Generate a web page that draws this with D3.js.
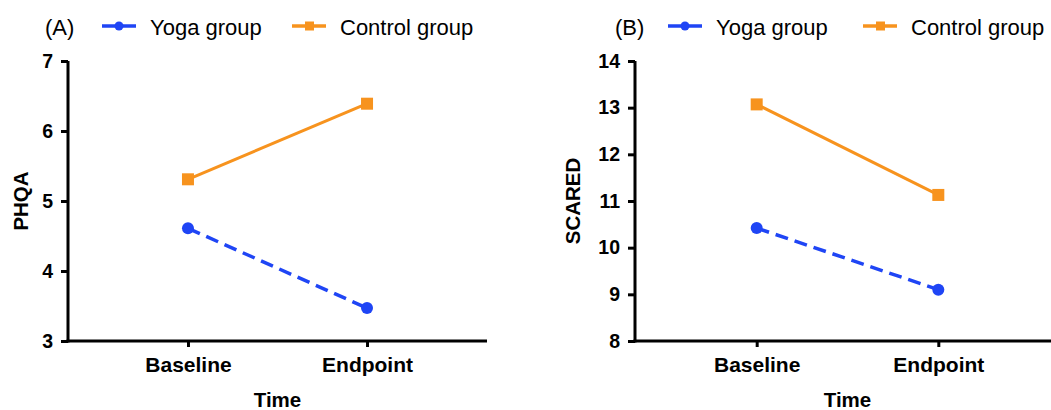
<!DOCTYPE html>
<html>
<head>
<meta charset="utf-8">
<script src="https://cdn.jsdelivr.net/npm/d3@7"></script>
<style>
  body { margin: 0; background: #fff; }
  svg { display: block; font-family: "Liberation Sans", Arial, Helvetica, sans-serif; }
</style>
</head>
<body>
<svg id="chart" width="1051" height="410"></svg>
<script>
// Data
var timepoints = ["Baseline", "Endpoint"];
var groups = ["Yoga group", "Control group"];
var phqaYoga = [4.61, 3.47];
var phqaControl = [5.31, 6.39];
var scaredYoga = [10.42, 9.10];
var scaredControl = [13.07, 11.13];
var phqaTicks = [3, 4, 5, 6, 7];
var scaredTicks = [8, 9, 10, 11, 12, 13, 14];

var blue = "#1f45f5", orange = "#f7931e";

var panels = [
  {tag: "(A)", yLabel: "PHQA", yDomain: [3, 7], ticks: phqaTicks, yoga: phqaYoga, control: phqaControl,
   left: 68, right: 487, tagX: -23, leg1: 34, leg2: 224, titleX: 28},
  {tag: "(B)", yLabel: "SCARED", yDomain: [8, 14], ticks: scaredTicks, yoga: scaredYoga, control: scaredControl,
   left: 635, right: 1060, tagX: -20, leg1: 33, leg2: 228, titleX: 580}
];

var plotTop = 61, plotBottom = 341;
var svg = d3.select("#chart");

panels.forEach(function(p){
  var g = svg.append("g");

  var x = d3.scalePoint().domain(timepoints).range([p.left, p.right]).padding(0.67);
  var y = d3.scaleLinear().domain(p.yDomain).range([plotBottom, plotTop]);

  //Y axis
  var yAxis = g.append("g")
    .attr("transform", "translate(" + p.left + ",0)")
    .call(d3.axisLeft(y).tickValues(p.ticks).tickFormat(d3.format("d")).tickSize(7).tickSizeOuter(0).tickPadding(8));

  //X axis
  var xAxis = g.append("g")
    .attr("transform", "translate(0," + plotBottom + ")")
    .call(d3.axisBottom(x).tickSize(6).tickSizeOuter(0).tickPadding(10));

  [yAxis, xAxis].forEach(function(ax){
    ax.selectAll("path, line").attr("stroke", "#000").attr("stroke-width", 3);
    ax.selectAll("text")
      .attr("fill", "#000")
      .style("font-size", "19.5px")
      .style("font-weight", "bold");
  });
  xAxis.select(".domain").attr("d", "M" + (p.left - 1.5) + ",0H" + p.right);
  yAxis.select(".domain").attr("d", "M0," + plotTop + "V" + (plotBottom + 1.5));
  xAxis.selectAll("text").style("font-size", "21px");

  //Axis titles
  g.append("text")
    .attr("transform", "translate(" + p.titleX + "," + ((plotTop + plotBottom) / 2) + ") rotate(-90)")
    .attr("text-anchor", "middle")
    .style("font-size", "20.5px")
    .style("font-weight", "bold")
    .text(p.yLabel);

  g.append("text")
    .attr("x", (x(timepoints[0]) + x(timepoints[1])) / 2)
    .attr("y", 407)
    .attr("text-anchor", "middle")
    .style("font-size", "20.5px")
    .style("font-weight", "bold")
    .text("Time");

  var line = d3.line()
    .x(function(d, i){ return x(timepoints[i]); })
    .y(function(d){ return y(d); });

  //Control line + square markers
  g.append("path")
    .datum(p.control)
    .attr("fill", "none")
    .attr("stroke", orange)
    .attr("stroke-width", 3)
    .attr("d", line);

  g.selectAll(".sq").data(p.control).enter().append("rect")
    .attr("x", function(d, i){ return x(timepoints[i]) - 6; })
    .attr("y", function(d){ return y(d) - 6; })
    .attr("width", 12)
    .attr("height", 12)
    .attr("fill", orange);

  //Yoga line (dashed) + circle markers
  g.append("path")
    .datum(p.yoga)
    .attr("fill", "none")
    .attr("stroke", blue)
    .attr("stroke-width", 3.5)
    .attr("stroke-dasharray", "13,7")
    .attr("d", line);

  g.selectAll(".dot").data(p.yoga).enter().append("circle")
    .attr("cx", function(d, i){ return x(timepoints[i]); })
    .attr("cy", function(d){ return y(d); })
    .attr("r", 6)
    .attr("fill", blue);

  //Panel tag and legend
  g.append("text")
    .attr("x", p.left + p.tagX)
    .attr("y", 35)
    .style("font-size", "22px")
    .text(p.tag);

  var legY = 26;
  var leg = [{x: p.leg1, color: blue, shape: "circle"}, {x: p.leg2, color: orange, shape: "square"}];
  leg.forEach(function(l, i){
    var x0 = p.left + l.x;
    g.append("line")
      .attr("x1", x0).attr("x2", x0 + 34)
      .attr("y1", legY).attr("y2", legY)
      .attr("stroke", l.color)
      .attr("stroke-width", 3.5);
    if(l.shape == "circle"){
      g.append("circle").attr("cx", x0 + 17).attr("cy", legY).attr("r", 4.5).attr("fill", l.color);
    }
    else {
      g.append("rect").attr("x", x0 + 13).attr("y", legY - 4.5).attr("width", 9).attr("height", 9).attr("fill", l.color);
    }
    g.append("text")
      .attr("x", x0 + 48)
      .attr("y", 35)
      .style("font-size", "22px")
      .text(groups[i]);
  });
});
</script>
</body>
</html>
